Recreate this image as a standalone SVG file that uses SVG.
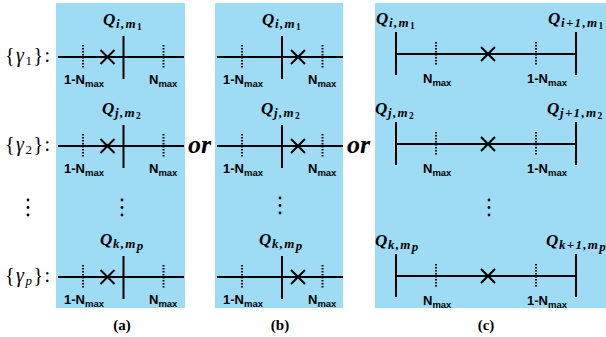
<svg xmlns="http://www.w3.org/2000/svg" xmlns:xlink="http://www.w3.org/1999/xlink" width="606" height="337" viewBox="0 0 606 337">
<style>
.panel{fill:#9edcf6}
.ln{stroke:#000;stroke-width:2;fill:none}
.dt{stroke:#000;stroke-width:2;stroke-dasharray:1.5 1.5;fill:none}
.q{font-family:"Liberation Serif",serif;font-weight:bold;font-style:italic;font-size:17px;fill:#000}
.sb{font-size:13px;letter-spacing:1.3px}
.n{font-size:9.5px;font-style:normal}
.lab{font-family:"Liberation Sans",sans-serif;font-weight:bold;font-size:13px;fill:#000}
.mx{font-size:9.5px}
.g{font-family:"Liberation Serif",serif;font-size:20px;letter-spacing:1.5px;fill:#000}
.or{font-family:"Liberation Serif",serif;font-weight:bold;font-style:italic;font-size:26px;fill:#000}
.cap{font-family:"Liberation Serif",serif;font-weight:bold;font-size:15px;fill:#000;text-anchor:middle}
</style>
<defs>
<g id="rowA">
<line class="ln" x1="58" y1="0" x2="184" y2="0"/>
<line class="ln" x1="123.5" y1="-21" x2="123.5" y2="22"/>
<line class="dt" x1="83" y1="-12" x2="83" y2="11"/>
<line class="dt" x1="163.5" y1="-12" x2="163.5" y2="11"/>
<path class="ln" d="M100.5,-7L114.5,7M100.5,7L114.5,-7"/>
</g>
<g id="rowB">
<line class="ln" x1="217" y1="0" x2="343" y2="0"/>
<line class="ln" x1="282" y1="-21" x2="282" y2="22"/>
<line class="dt" x1="242" y1="-12" x2="242" y2="11"/>
<line class="dt" x1="322.5" y1="-12" x2="322.5" y2="11"/>
<path class="ln" d="M291,-7L305,7M291,7L305,-7"/>
</g>
<g id="rowC">
<line class="ln" x1="396" y1="0" x2="576" y2="0"/>
<line class="ln" x1="396" y1="-22" x2="396" y2="21"/>
<line class="ln" x1="576" y1="-22" x2="576" y2="21"/>
<line class="dt" x1="436" y1="-12" x2="436" y2="11"/>
<line class="dt" x1="536" y1="-12" x2="536" y2="11"/>
<path class="ln" d="M481,-7L495,7M481,7L495,-7"/>
</g>
<g id="vdots">
<circle cx="0" cy="0" r="1.4"/>
<circle cx="0" cy="7.5" r="1.4"/>
<circle cx="0" cy="15" r="1.4"/>
</g>
</defs>

<g id="labels-left">
<text class="g" x="5" y="62">{<tspan font-style="italic">γ</tspan><tspan font-size="13" dy="3">1</tspan><tspan dy="-3">}:</tspan></text>
<text class="g" x="5" y="151">{<tspan font-style="italic">γ</tspan><tspan font-size="13" dy="3">2</tspan><tspan dy="-3">}:</tspan></text>
<text class="g" x="5" y="282">{<tspan font-style="italic">γ</tspan><tspan font-size="13" font-style="italic" dy="3">p</tspan><tspan dy="-3">}:</tspan></text>
<use xlink:href="#vdots" x="28" y="200"/>
</g>

<g id="panel-a">
<rect class="panel" x="56" y="3" width="129" height="305"/>
<use xlink:href="#rowA" y="57"/>
<use xlink:href="#rowA" y="146"/>
<use xlink:href="#rowA" y="277"/>
<use xlink:href="#vdots" x="122" y="200"/>
<text class="q" x="103" y="25">Q<tspan class="sb" x="116" dy="3">i,m</tspan><tspan class="n" dy="1.5">1</tspan></text>
<text class="q" x="102" y="114">Q<tspan class="sb" x="115" dy="3">j,m</tspan><tspan class="n" dy="1.5">2</tspan></text>
<text class="q" x="100" y="245">Q<tspan class="sb" x="113" dy="3">k,m</tspan><tspan class="sb" font-size="10" dy="1.5">p</tspan></text>
<text class="lab" x="64" y="84">1-N<tspan class="mx" dy="3">max</tspan></text>
<text class="lab" x="149" y="84">N<tspan class="mx" dy="3">max</tspan></text>
<text class="lab" x="64" y="173">1-N<tspan class="mx" dy="3">max</tspan></text>
<text class="lab" x="149" y="173">N<tspan class="mx" dy="3">max</tspan></text>
<text class="lab" x="64" y="304">1-N<tspan class="mx" dy="3">max</tspan></text>
<text class="lab" x="149" y="304">N<tspan class="mx" dy="3">max</tspan></text>
<text class="cap" x="122" y="330">(a)</text>
</g>

<g id="or-1"><text class="or" x="188" y="153">or</text></g>

<g id="panel-b">
<rect class="panel" x="215" y="3" width="128" height="305"/>
<use xlink:href="#rowB" y="57"/>
<use xlink:href="#rowB" y="146"/>
<use xlink:href="#rowB" y="277"/>
<use xlink:href="#vdots" x="280" y="198"/>
<text class="q" x="262" y="25">Q<tspan class="sb" x="275" dy="3">i,m</tspan><tspan class="n" dy="1.5">1</tspan></text>
<text class="q" x="261" y="114">Q<tspan class="sb" x="274" dy="3">j,m</tspan><tspan class="n" dy="1.5">2</tspan></text>
<text class="q" x="259" y="245">Q<tspan class="sb" x="272" dy="3">k,m</tspan><tspan class="sb" font-size="10" dy="1.5">p</tspan></text>
<text class="lab" x="223" y="84">1-N<tspan class="mx" dy="3">max</tspan></text>
<text class="lab" x="308" y="84">N<tspan class="mx" dy="3">max</tspan></text>
<text class="lab" x="223" y="173">1-N<tspan class="mx" dy="3">max</tspan></text>
<text class="lab" x="308" y="173">N<tspan class="mx" dy="3">max</tspan></text>
<text class="lab" x="223" y="304">1-N<tspan class="mx" dy="3">max</tspan></text>
<text class="lab" x="308" y="304">N<tspan class="mx" dy="3">max</tspan></text>
<text class="cap" x="280" y="330">(b)</text>
</g>

<g id="or-2"><text class="or" x="347" y="153">or</text></g>

<g id="panel-c">
<rect class="panel" x="375" y="3" width="231" height="305"/>
<use xlink:href="#rowC" y="54"/>
<use xlink:href="#rowC" y="144"/>
<use xlink:href="#rowC" y="276"/>
<use xlink:href="#vdots" x="489" y="200"/>
<text class="q" x="376" y="24">Q<tspan class="sb" x="389" dy="3">i,m</tspan><tspan class="n" dy="1.5">1</tspan></text>
<text class="q" x="548" y="24">Q<tspan class="sb" x="561" dy="3" letter-spacing="0.5">i+1,m</tspan><tspan class="n" dy="1.5">1</tspan></text>
<text class="q" x="375" y="114">Q<tspan class="sb" x="388" dy="3">j,m</tspan><tspan class="n" dy="1.5">2</tspan></text>
<text class="q" x="547" y="114">Q<tspan class="sb" x="560" dy="3" letter-spacing="0.5">j+1,m</tspan><tspan class="n" dy="1.5">2</tspan></text>
<text class="q" x="375" y="246">Q<tspan class="sb" x="388" dy="3">k,m</tspan><tspan class="sb" font-size="10" dy="1.5">p</tspan></text>
<text class="q" x="546" y="246">Q<tspan class="sb" x="559" dy="3" letter-spacing="0.3">k+1,m</tspan><tspan class="sb" font-size="10" dy="1.5">p</tspan></text>
<text class="lab" x="423" y="83">N<tspan class="mx" dy="3">max</tspan></text>
<text class="lab" x="527" y="83">1-N<tspan class="mx" dy="3">max</tspan></text>
<text class="lab" x="423" y="173">N<tspan class="mx" dy="3">max</tspan></text>
<text class="lab" x="527" y="173">1-N<tspan class="mx" dy="3">max</tspan></text>
<text class="lab" x="423" y="305">N<tspan class="mx" dy="3">max</tspan></text>
<text class="lab" x="527" y="305">1-N<tspan class="mx" dy="3">max</tspan></text>
<text class="cap" x="486" y="330">(c)</text>
</g>
</svg>
